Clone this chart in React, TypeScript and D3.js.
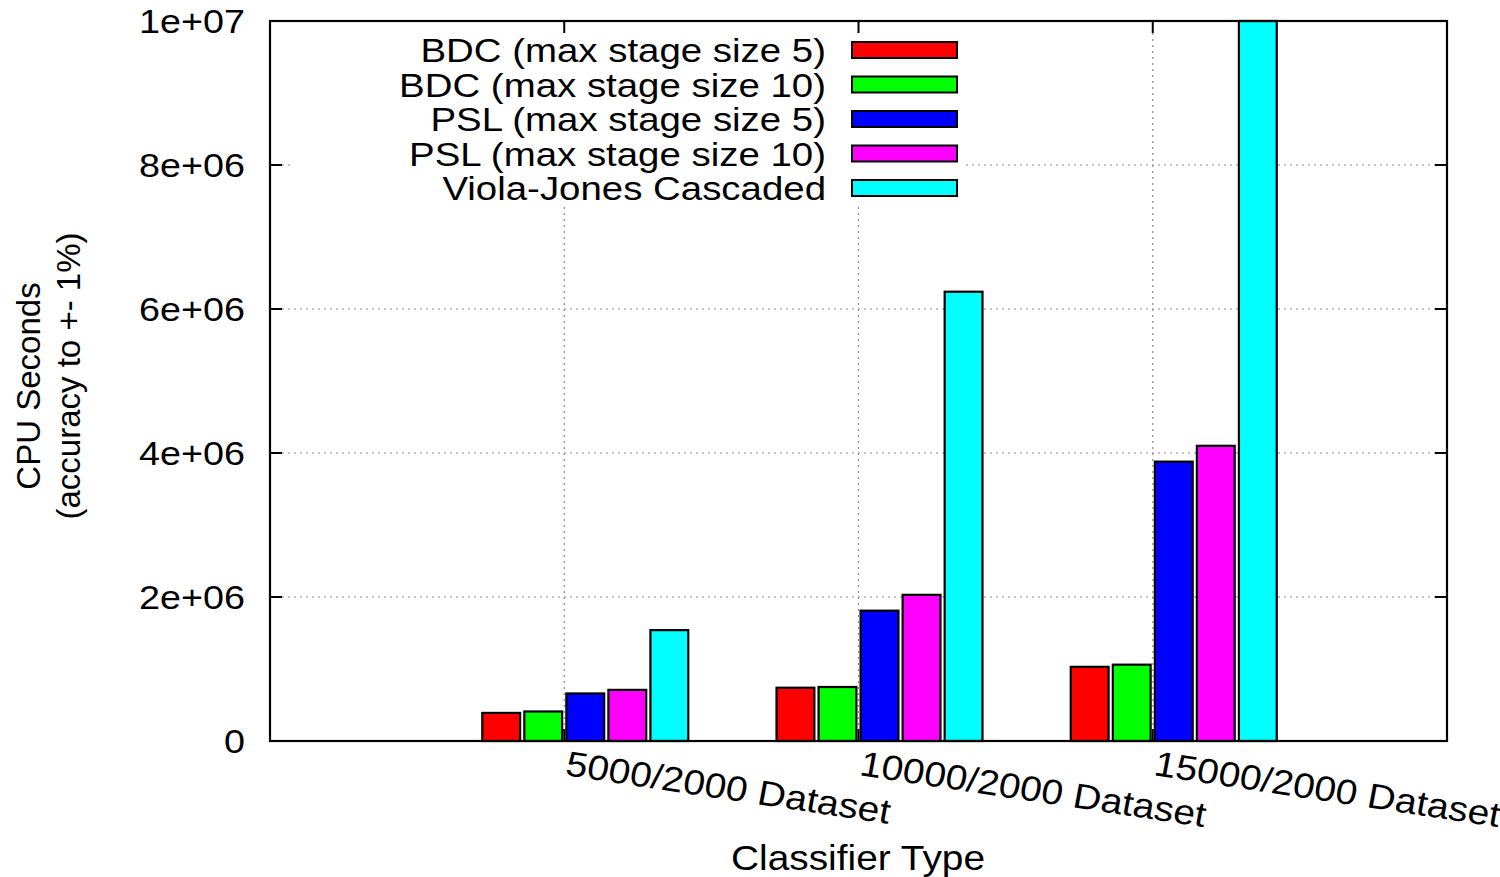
import React from 'react';
import * as d3 from 'd3';

const categories = ['5000/2000 Dataset', '10000/2000 Dataset', '15000/2000 Dataset'];
const seriesNames = [
  'BDC (max stage size 5)',
  'BDC (max stage size 10)',
  'PSL (max stage size 5)',
  'PSL (max stage size 10)',
  'Viola-Jones Cascaded'
];
const seriesColors = ['#ff0000', '#00ff00', '#0000ff', '#ff00ff', '#00ffff'];
const bdc5 = [0.39e6, 0.74e6, 1.03e6];
const bdc10 = [0.41e6, 0.75e6, 1.06e6];
const psl5 = [0.66e6, 1.81e6, 3.88e6];
const psl10 = [0.71e6, 2.03e6, 4.10e6];
const violaJones = [1.54e6, 6.24e6, 1.0e7];
const yTicks = [0, 2e6, 4e6, 6e6, 8e6, 1e7];
const yTickLabels = ['0', '2e+06', '4e+06', '6e+06', '8e+06', '1e+07'];

const series = [bdc5, bdc10, psl5, psl10, violaJones];

const W = 1500, H = 877;
const left = 270, right = 1447, top = 21, bottom = 741;
const font = '"Liberation Sans", Arial, sans-serif';
// the original png is a little stretched sideways
const sx = 1.11;

export default function App() {
  // gnuplot style: categories sit at 1,2,3 on a 0..4 axis
  const x = d3.scaleLinear().domain([0, 4]).range([left, right]);
  const y = d3.scaleLinear().domain([0, 1e7]).range([bottom, top]);
  const slot = (x(1) - x(0)) / 7;
  const barW = slot * 0.9;

  return (
    <svg width={W} height={H} style={{ position: 'absolute', left: 0, top: 0, background: '#fff' }}
      fontFamily={font}>
      <rect x={0} y={0} width={W} height={H} fill="#fff" />
      {/* grid */}
      {yTicks.slice(1, -1).map((t, i) => (
        <line key={'gy' + i} x1={left} x2={right} y1={y(t)} y2={y(t)}
          stroke="#8a8a8a" strokeWidth={1.2} strokeDasharray="2 4" />
      ))}
      {categories.map((c, i) => (
        <line key={'gx' + i} x1={x(i + 1)} x2={x(i + 1)} y1={top} y2={bottom}
          stroke="#8a8a8a" strokeWidth={1.2} strokeDasharray="2 4" />
      ))}
      {/* key background */}
      <rect x={292} y={28} width={670} height={177} fill="#fff" />
      {/* bars */}
      {series.map((vals, s) => vals.map((v, i) => {
        const cx = x(i + 1) + (s - 1.5) * slot;
        const yv = y(Math.min(v, 1e7));
        return (
          <rect key={'b' + s + '-' + i} x={cx - barW / 2} y={yv} width={barW} height={bottom - yv}
            fill={seriesColors[s]} stroke="#000" strokeWidth={2.2} />
        );
      }))}
      {/* ticks */}
      {yTicks.map((t, i) => (
        <g key={'ty' + i}>
          <line x1={left} x2={left + 12} y1={y(t)} y2={y(t)} stroke="#000" strokeWidth={2} />
          <line x1={right} x2={right - 12} y1={y(t)} y2={y(t)} stroke="#000" strokeWidth={2} />
          <text transform={`translate(245,${y(t)}) scale(${sx},1)`} dy="0.36em" textAnchor="end" fontSize={34} fill="#000">{yTickLabels[i]}</text>
        </g>
      ))}
      {categories.map((c, i) => (
        <g key={'tx' + i}>
          <line x1={x(i + 1)} x2={x(i + 1)} y1={bottom} y2={bottom - 12} stroke="#000" strokeWidth={2} />
          <line x1={x(i + 1)} x2={x(i + 1)} y1={top} y2={top + 12} stroke="#000" strokeWidth={2} />
          <text transform={`translate(${x(i + 1)},${bottom + 34}) scale(${sx},1) rotate(9.5)`} fontSize={35} fill="#000">{c}</text>
        </g>
      ))}
      {/* frame */}
      <rect x={left} y={top} width={right - left} height={bottom - top} fill="none" stroke="#000" strokeWidth={2.2} />
      {/* legend */}
      {seriesNames.map((n, i) => {
        const ry = 50 + i * 34.5;
        return (
          <g key={'k' + i}>
            <text transform={`translate(826,${ry}) scale(${1.13},1)`} dy="0.36em" textAnchor="end" fontSize={34} fill="#000">{n}</text>
            <rect x={852} y={ry - 8} width={105} height={16} fill={seriesColors[i]} stroke="#000" strokeWidth={2} />
          </g>
        );
      })}
      {/* axis titles */}
      <text transform={`translate(858,857) scale(${sx},1)`} dy="0.36em" textAnchor="middle" fontSize={35} fill="#000">Classifier Type</text>
      <text transform="translate(28,386) rotate(-90)" dy="0.36em" textAnchor="middle" fontSize={33} fill="#000">CPU Seconds</text>
      <text transform="translate(68,376) rotate(-90)" dy="0.36em" textAnchor="middle" fontSize={33} fill="#000">(accuracy to +- 1%)</text>
    </svg>
  );
}
